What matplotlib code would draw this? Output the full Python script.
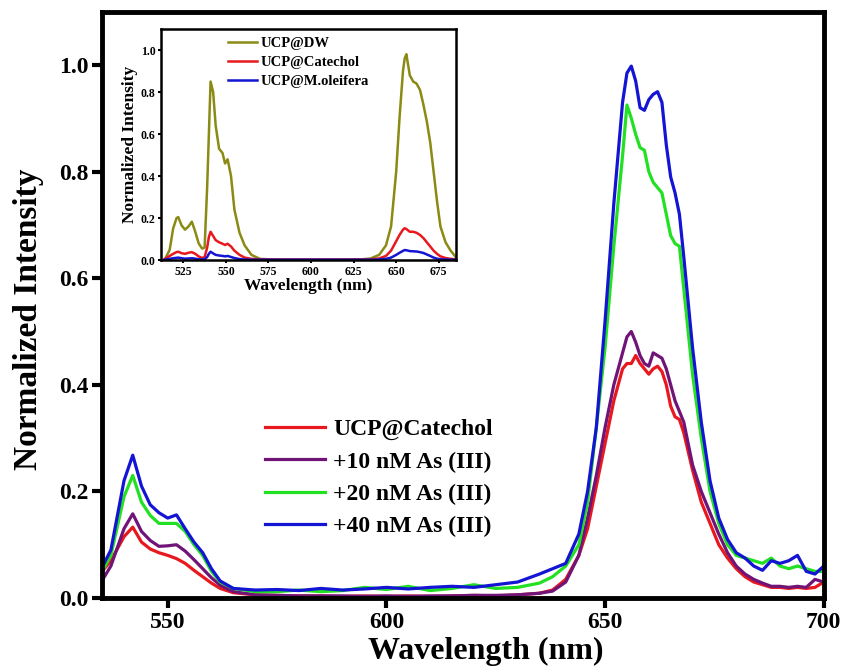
import matplotlib
matplotlib.use("Agg")
import matplotlib.pyplot as plt

plt.rcParams['font.family'] = ['Liberation Serif', 'DejaVu Serif']
plt.rcParams['font.weight'] = 'bold'

# main spectra (nm, normalized intensity)
wl = [535, 537, 540, 542, 544, 546, 548, 550, 552, 554, 556, 558, 560, 562, 565,
      570, 575, 580, 585, 590, 595, 600, 605, 610, 615, 620, 625, 630, 635,
      638, 641, 644, 646, 648, 650, 652, 654,
      655, 656, 657, 658, 659, 660, 661, 662, 663, 664, 665, 666, 667, 668,
      670, 672, 674, 676, 678, 680, 682, 684, 686, 688, 690, 692, 694, 696, 698, 700]

catechol = [0.05, 0.07, 0.115, 0.133, 0.105, 0.092, 0.085, 0.08, 0.074, 0.065, 0.052, 0.04, 0.028, 0.018, 0.01,
            0.006, 0.005, 0.004, 0.004, 0.003, 0.004, 0.003, 0.004, 0.003, 0.004, 0.005, 0.004, 0.006, 0.009,
            0.015, 0.035, 0.08, 0.13, 0.21, 0.29, 0.37, 0.43,
            0.44, 0.44, 0.455, 0.44, 0.43, 0.42, 0.43, 0.435, 0.425, 0.40, 0.36, 0.34, 0.335, 0.31,
            0.24, 0.18, 0.14, 0.10, 0.075, 0.055, 0.04, 0.03, 0.025, 0.02, 0.02, 0.018, 0.02, 0.018, 0.02, 0.03]

as10 = [0.033, 0.06, 0.13, 0.158, 0.125, 0.108, 0.097, 0.098, 0.10, 0.088, 0.072, 0.055, 0.038, 0.024, 0.012,
        0.006, 0.005, 0.004, 0.004, 0.004, 0.003, 0.004, 0.003, 0.004, 0.004, 0.005, 0.005, 0.006, 0.009,
        0.013, 0.03, 0.08, 0.15, 0.23, 0.32, 0.40, 0.46,
        0.49, 0.50, 0.48, 0.455, 0.44, 0.435, 0.46, 0.455, 0.45, 0.43, 0.40, 0.37, 0.35, 0.33,
        0.25, 0.20, 0.16, 0.12, 0.085, 0.06, 0.045, 0.035, 0.028, 0.022, 0.022, 0.02, 0.022, 0.02, 0.035, 0.03]

as20 = [0.05, 0.08, 0.19, 0.23, 0.18, 0.155, 0.14, 0.14, 0.14, 0.125, 0.10, 0.08, 0.05, 0.03, 0.018,
        0.012, 0.012, 0.015, 0.012, 0.014, 0.02, 0.016, 0.022, 0.014, 0.018, 0.025, 0.018, 0.02, 0.028,
        0.04, 0.06, 0.10, 0.18, 0.32, 0.47, 0.66, 0.83,
        0.925, 0.90, 0.87, 0.845, 0.84, 0.80, 0.78, 0.77, 0.76, 0.72, 0.68, 0.665, 0.66, 0.58,
        0.42, 0.30, 0.20, 0.14, 0.10, 0.08, 0.075, 0.07, 0.065, 0.075, 0.06, 0.055, 0.06, 0.055, 0.05, 0.05]

as40 = [0.058, 0.09, 0.22, 0.268, 0.21, 0.175, 0.16, 0.15, 0.156, 0.13, 0.105, 0.085, 0.055, 0.032, 0.018,
        0.015, 0.016, 0.014, 0.018, 0.015, 0.017, 0.02, 0.017, 0.02, 0.022, 0.02, 0.025, 0.03, 0.045,
        0.055, 0.065, 0.12, 0.2, 0.32, 0.52, 0.74, 0.93,
        0.985, 0.998, 0.97, 0.92, 0.915, 0.935, 0.945, 0.95, 0.93, 0.85, 0.79, 0.76, 0.72, 0.64,
        0.47, 0.33, 0.22, 0.15, 0.11, 0.085, 0.075, 0.06, 0.052, 0.07, 0.065, 0.07, 0.08, 0.05, 0.045, 0.06]

# inset spectra
wl_in = [514, 517, 519, 521, 522, 524, 526, 528, 530,
         532, 534, 536, 537.5, 539, 540, 541, 542.5, 544, 546, 548,
         549.5, 551, 553, 555, 558, 561, 565, 570, 580, 600,
         620, 630, 635, 640, 644, 647, 650, 652, 654, 655,
         656, 658, 660, 662, 664, 666, 668, 670, 672, 674,
         676, 679, 682, 685]

dw_in = [0.0, 0.05, 0.15, 0.2, 0.205, 0.165, 0.145, 0.16, 0.183,
         0.135, 0.08, 0.055, 0.06, 0.35, 0.6, 0.85, 0.8, 0.64, 0.53, 0.51,
         0.46, 0.48, 0.40, 0.24, 0.13, 0.07, 0.025, 0.006, 0.002, 0.002,
         0.002, 0.004, 0.008, 0.025, 0.07, 0.16, 0.42, 0.68, 0.9, 0.96,
         0.98, 0.88, 0.85, 0.84, 0.81, 0.74, 0.66, 0.56, 0.42, 0.28,
         0.16, 0.085, 0.045, 0.015]

cat_in = [0.005, 0.02, 0.03, 0.038, 0.04, 0.033, 0.03, 0.035, 0.038,
          0.03, 0.018, 0.01, 0.015, 0.06, 0.11, 0.135, 0.115, 0.095, 0.085, 0.078,
          0.072, 0.078, 0.065, 0.045, 0.025, 0.012, 0.006, 0.004, 0.003, 0.003,
          0.003, 0.003, 0.004, 0.008, 0.02, 0.045, 0.09, 0.12, 0.145, 0.152,
          0.148, 0.135, 0.135, 0.13, 0.12, 0.105, 0.085, 0.065, 0.045, 0.03,
          0.018, 0.01, 0.006, 0.004]

mol_in = [0.002, 0.006, 0.009, 0.011, 0.012, 0.009, 0.007, 0.008, 0.009,
          0.007, 0.004, 0.003, 0.004, 0.015, 0.03, 0.04, 0.032, 0.025, 0.022, 0.02,
          0.018, 0.02, 0.015, 0.01, 0.005, 0.003, 0.002, 0.002, 0.002, 0.002,
          0.002, 0.002, 0.002, 0.003, 0.006, 0.012, 0.025, 0.035, 0.044, 0.048,
          0.047, 0.043, 0.042, 0.041, 0.038, 0.034, 0.027, 0.02, 0.012, 0.007,
          0.004, 0.003, 0.002, 0.002]

fig = plt.figure(figsize=(8.44, 6.67), dpi=100)
ax = fig.add_axes([0.121, 0.1034, 0.855, 0.879])

ax.plot(wl, catechol, color="#e8191e", lw=2.3, label="UCP@Catechol")
ax.plot(wl, as10, color="#701478", lw=2.3, label="+10 nM As (III)")
ax.plot(wl, as20, color="#22e022", lw=2.3, label="+20 nM As (III)")
ax.plot(wl, as40, color="#1414d4", lw=2.3, label="+40 nM As (III)")

ax.set_xlim(535, 700)
ax.set_ylim(0, 1.1)
ax.set_xticks([550, 600, 650, 700])
ax.set_yticks([0.0, 0.2, 0.4, 0.6, 0.8, 1.0])
ax.set_yticklabels(["0.0", "0.2", "0.4", "0.6", "0.8", "1.0"])
ax.tick_params(direction="out", length=7, width=3, labelsize=17, pad=3)
for s in ax.spines.values():
    s.set_linewidth(3.5)
ax.set_xlabel("Wavelength (nm)", fontsize=23, fontweight="bold")
ax.set_ylabel("Normalized Intensity", fontsize=24, fontweight="bold")
ax.xaxis.set_label_coords(0.532, -0.066)
ax.yaxis.set_label_coords(-0.08, 0.475)
ax.legend(loc="upper left", bbox_to_anchor=(0.226, 0.306), frameon=False,
          fontsize=17, handlelength=2.55, handletextpad=0.34, labelspacing=0.46,
          borderaxespad=0, borderpad=0)

# inset
ins = fig.add_axes([0.191, 0.610, 0.349, 0.3465])
ins.plot(wl_in, dw_in, color="#8a8a14", lw=1.8, label="UCP@DW")
ins.plot(wl_in, cat_in, color="#e8191e", lw=1.8, label="UCP@Catechol")
ins.plot(wl_in, mol_in, color="#1414d4", lw=1.8, label="UCP@M.oleifera")
ins.set_xlim(512, 685)
ins.set_ylim(0, 1.1)
ins.set_xticks([525, 550, 575, 600, 625, 650, 675])
ins.set_yticks([0.0, 0.2, 0.4, 0.6, 0.8, 1.0])
ins.set_yticklabels(["0.0", "0.2", "0.4", "0.6", "0.8", "1.0"])
ins.tick_params(direction="out", length=2.5, width=1.5, labelsize=8.5, pad=1.5)
for s in ins.spines.values():
    s.set_linewidth(1.8)
ins.set_xlabel("Wavelength (nm)", fontsize=12.5, fontweight="bold", labelpad=0)
ins.set_ylabel("Normalized Intensity", fontsize=12.5, fontweight="bold", labelpad=2)
ins.legend(loc="upper left", bbox_to_anchor=(0.227, 0.965), frameon=False,
           fontsize=10.5, handlelength=2.0, handletextpad=0.2, labelspacing=0.4,
           borderaxespad=0, borderpad=0)

fig.savefig("out.png", dpi=100)
